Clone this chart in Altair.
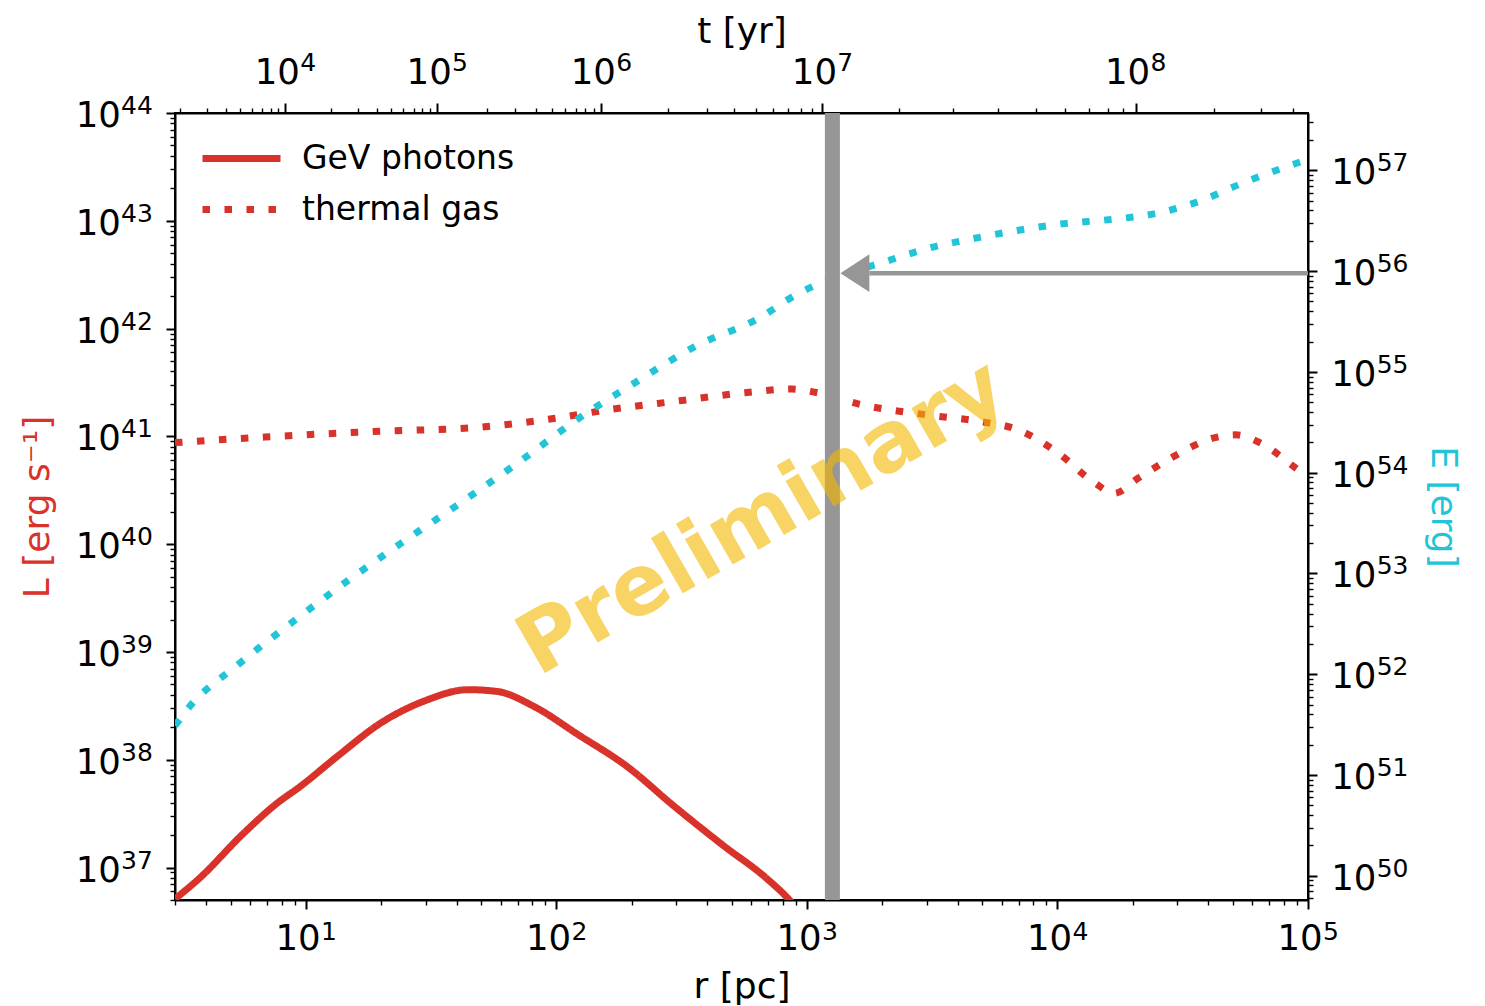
import altair as alt
import numpy as np
import pandas as pd

RED = "#d8322a"
CYAN = "#22c5d7"
GRAY = "#969696"
GOLD = "#f5b800"
FONT = "DejaVu Sans"

# ---------------- data ----------------
gev_r = [3.0, 3.75, 5.6, 7.56, 9.56, 13.35, 19.94, 29.8, 44.4, 58.0, 81.2, 121.1,
         193.5, 289.2, 461.9, 689.9, 842.8, 940.0]
gev_L = [5.12e36, 7.93e36, 2.05e37, 3.85e37, 5.73e37, 1.077e38, 2.20e38, 3.52e38,
         4.47e38, 4.30e38, 3.13e38, 1.73e38, 8.49e37, 3.85e37, 1.61e37, 7.93e36,
         5.12e36, 3.80e36]

thermal_r = [3.0, 6.84, 19.94, 47.6, 92.8, 158.1, 309.4, 564.5, 871.0, 1100.0, 1645.0,
             3001.0, 4792.0, 6922.0, 10000.0, 13975.0, 16845.0, 20870.0, 29140.0,
             42100.0, 51380.0, 65040.0, 90900.0, 100000.0]
thermal_L = [8.75e40, 9.86e40, 1.117e41, 1.208e41, 1.439e41, 1.754e41, 2.138e41,
             2.541e41, 2.748e41, 2.541e41, 1.972e41, 1.585e41, 1.384e41, 1.156e41,
             7.08e40, 3.75e40, 2.96e40, 4.06e40, 6.52e40, 9.68e40, 1.033e41, 8.61e40,
             4.95e40, 4.24e40]

energy_r = [3.0, 3.39, 5.41, 8.94, 14.74, 25.2, 41.6, 71.0, 121.1, 207.0, 353.4, 652.6,
            904.6, 1100.0, 1342.0, 2019.0, 2999.0, 4597.0, 6922.0, 10626.0, 15986.0,
            24530.0, 36900.0, 54810.0, 81400.0, 100000.0]
energy_E = [3.08e51, 4.60e51, 1.27e52, 3.37e52, 8.53e52, 2.17e53, 5.05e53, 1.279e54,
            3.38e54, 7.89e54, 1.762e55, 3.49e55, 5.83e55, 7.38e55, 8.91e55, 1.227e56,
            1.667e56, 2.10e56, 2.535e56, 2.96e56, 3.24e56, 3.72e56, 4.95e56, 7.48e56,
            1.079e57, 1.285e57]

band_r = [1263.0]
arrow_r_start = [1775.0]
arrow_r_end = [100000.0]
arrow_E = [9.55e55]
arrowhead_r = [1553.0]
watermark_text = ["Preliminary"]
watermark_r = [664.0]
watermark_L = [1.73e40]

series_names = ["GeV photons", "thermal gas"]

# axis ranges and ticks
x_domain = [3.0, 1e5]
L_domain = [5e36, 1e44]
E_domain = [5.74e49, 3.71e57]

bottom_major = [10.0, 100.0, 1e3, 1e4, 1e5]
left_major = [1e37, 1e38, 1e39, 1e40, 1e41, 1e42, 1e43, 1e44]
right_major = [1e50, 1e51, 1e52, 1e53, 1e54, 1e55, 1e56, 1e57]

# top axis: time ticks and the radius at which each one sits
top_major_exp = ["4", "5", "6", "7", "8"]
top_major_r = [8.27, 33.4, 151.0, 1152.0, 20490.0]
top_anchor_t = [1e3, 1e4, 1e5, 1e6, 1e7, 2e7, 3e7, 4e7, 5e7, 6e7, 7e7, 8e7, 9e7, 1e8, 1e9]
top_anchor_r = [2.08, 8.27, 33.4, 151.0, 1152.0, 2339.0, 3843.0, 5813.0, 8170.0,
                10670.0, 13300.0, 15840.0, 18340.0, 20490.0, 228000.0]


def minors(lo, hi, d0, d1):
    out = []
    for d in range(d0, d1 + 1):
        for k in range(2, 10):
            v = float(k) * 10.0 ** d
            if lo * 0.9999 <= v <= hi * 1.0001:
                out.append(v)
    return out


bottom_vals = bottom_major + minors(x_domain[0], x_domain[1], 0, 4)
left_vals = left_major + minors(L_domain[0], L_domain[1], 36, 43)
right_vals = right_major + minors(E_domain[0], E_domain[1], 49, 57)

top_minor_t = [float(k) * 10.0 ** d for d in range(3, 9) for k in range(2, 10)]
top_minor_r = []
for t in top_minor_t:
    lr = np.interp(np.log10(t), np.log10(top_anchor_t), np.log10(top_anchor_r))
    rv = float(np.round(10 ** lr, 3))
    if x_domain[0] <= rv <= x_domain[1]:
        top_minor_r.append(rv)
top_vals = top_major_r + top_minor_r

# ---------------- tables ----------------
df_red = pd.DataFrame({
    "r": gev_r + thermal_r,
    "L": gev_L + thermal_L,
    "series": [series_names[0]] * len(gev_r) + [series_names[1]] * len(thermal_r),
})
df_E = pd.DataFrame({"r": energy_r, "E": energy_E})
df_band = pd.DataFrame({"r": band_r})
df_arrow = pd.DataFrame({"r0": arrow_r_start, "r1": arrow_r_end, "E": arrow_E})
df_head = pd.DataFrame({"r": arrowhead_r, "E": arrow_E})
df_text = pd.DataFrame({"r": watermark_r, "L": watermark_L, "label": watermark_text})
df_top = pd.DataFrame({"v": top_vals})
df_bottom = pd.DataFrame({"v": bottom_major})
df_left = pd.DataFrame({"v": left_major})
df_right = pd.DataFrame({"v": right_major})

# ---------------- axes ----------------
EXP = "round(log(datum.value)/LN10)"
IS_MAJOR = f"abs(log(datum.value)/LN10 - {EXP}) < 0.001"
BASE_LABEL = f"({IS_MAJOR}) ? '10' : ''"
EXP_LABEL = f"({IS_MAJOR}) ? ('' + {EXP}) : ''"

TOP_MAJ = "[" + ",".join(repr(v) for v in top_major_r) + "]"
TOP_EXP = "[" + ",".join("'" + s + "'" for s in top_major_exp) + "]"
TOP_IS_MAJOR = f"indexof({TOP_MAJ}, datum.value) >= 0"
TOP_BASE = f"({TOP_IS_MAJOR}) ? '10' : ''"
TOP_EXP_LABEL = f"({TOP_IS_MAJOR}) ? {TOP_EXP}[indexof({TOP_MAJ}, datum.value)] : ''"

W, H = 1133, 787
BASE_FS = 35.5
EXP_FS = 25

AX = dict(grid=False, domainColor="black", domainWidth=2, tickColor="black",
          labelFont=FONT, labelColor="black", labelBaseline="alphabetic",
          labelFlush=False, labelOverlap=False, labelBound=False,
          titleFont=FONT, titleFontSize=36,
          titleFontWeight="normal", titleBaseline="middle", titleAlign="center")
EXPAX = dict(grid=False, domain=False, ticks=False, title=None, labelFont=FONT,
             labelColor="black", labelFontSize=EXP_FS, labelBaseline="alphabetic",
             labelFlush=False, labelOverlap=False, labelBound=False)


def tickstyle(test, major=9, minor=5):
    return dict(tickSize={"condition": {"test": test, "value": major}, "value": minor},
                tickWidth={"condition": {"test": test, "value": 2}, "value": 1.4})


x_scale = alt.Scale(type="log", domain=x_domain, nice=False)
L_scale = alt.Scale(type="log", domain=L_domain, nice=False)
E_scale = alt.Scale(type="log", domain=E_domain, nice=False)

bottom_axis = alt.Axis(orient="bottom", values=bottom_vals, labelExpr=BASE_LABEL,
                       labelFontSize=BASE_FS, labelPadding=40, labelOffset=-8.5,
                       labelAlign="center",
                       title="r [pc]", titleX=W / 2, titleY=86, titleColor="black",
                       **tickstyle(IS_MAJOR), **AX)
bottom_exp_axis = alt.Axis(orient="bottom", values=bottom_major, labelExpr=EXP_LABEL,
                           labelPadding=39, labelOffset=14.4, labelAlign="left", **EXPAX)

top_axis = alt.Axis(orient="top", values=top_vals, labelExpr=TOP_BASE,
                    labelFontSize=BASE_FS, labelPadding=19.5, labelOffset=-8.5,
                    labelAlign="center",
                    title="t [yr]", titleX=W / 2, titleY=-82, titleColor="black",
                    **tickstyle(TOP_IS_MAJOR, 10, 5), **AX)
top_exp_axis = alt.Axis(orient="top", values=top_major_r, labelExpr=TOP_EXP_LABEL,
                        labelPadding=42.5, labelOffset=14.4, labelAlign="left", **EXPAX)

left_axis = alt.Axis(orient="left", values=left_vals, labelExpr=BASE_LABEL,
                     labelFontSize=BASE_FS, labelPadding=45.6, labelOffset=13.5,
                     labelAlign="right",
                     title="L [erg s\u207b\u00b9]", titleColor=RED, titleAngle=270,
                     titleX=-138, titleY=H / 2, **tickstyle(IS_MAJOR), **AX)
left_exp_axis = alt.Axis(orient="left", values=left_major, labelExpr=EXP_LABEL,
                         labelPadding=22.6, labelOffset=0.5, labelAlign="right", **EXPAX)

right_axis = alt.Axis(orient="right", values=right_vals, labelExpr=BASE_LABEL,
                      labelFontSize=BASE_FS, labelPadding=13.7, labelOffset=13.5,
                      labelAlign="left",
                      title="E [erg]", titleColor=CYAN, titleAngle=90,
                      titleX=134, titleY=H / 2, **tickstyle(IS_MAJOR), **AX)
right_exp_axis = alt.Axis(orient="right", values=right_major, labelExpr=EXP_LABEL,
                          labelPadding=68.2, labelOffset=0.5, labelAlign="left", **EXPAX)

legend = alt.Legend(title=None, orient="none", legendX=50, legendY=29,
                    symbolType="M -3 0 L 3 0", symbolSize=676, symbolStrokeWidth=7,
                    symbolStrokeColor=RED, labelFont=FONT, labelFontSize=33,
                    labelColor="black", labelOffset=44, labelLimit=600,
                    rowPadding=17, padding=0)

# ---------------- layers ----------------
red = alt.Chart(df_red).mark_line(color=RED, strokeWidth=7, clip=True, strokeCap="butt",
                                  interpolate="monotone").encode(
    x=alt.X("r:Q", scale=x_scale, axis=bottom_axis),
    y=alt.Y("L:Q", scale=L_scale, axis=left_axis),
    strokeDash=alt.StrokeDash("series:N",
                              scale=alt.Scale(domain=series_names, range=[[1, 0], [7.5, 14.5]]),
                              legend=legend),
)

cyan = alt.Chart(df_E).mark_line(color=CYAN, strokeWidth=7, strokeDash=[7.5, 14.5],
                                 strokeCap="butt", clip=True,
                                 interpolate="monotone").encode(
    x=alt.X("r:Q", scale=x_scale, axis=None),
    y=alt.Y("E:Q", scale=E_scale, axis=right_axis),
)

band = alt.Chart(df_band).mark_rule(color=GRAY, strokeWidth=15).encode(
    x=alt.X("r:Q", scale=x_scale, axis=None),
)

arrow = alt.Chart(df_arrow).mark_rule(color=GRAY, strokeWidth=4.5).encode(
    x=alt.X("r0:Q", scale=x_scale, axis=None),
    x2="r1:Q",
    y=alt.Y("E:Q", scale=E_scale, axis=None),
)

head = alt.Chart(df_head).mark_point(shape="M -1 0 L 1 -1.3 L 1 1.3 Z", filled=True,
                                     size=841, color=GRAY, opacity=1, strokeWidth=0).encode(
    x=alt.X("r:Q", scale=x_scale, axis=None),
    y=alt.Y("E:Q", scale=E_scale, axis=None),
)

top = alt.Chart(df_top).mark_point(opacity=0).encode(
    x=alt.X("v:Q", scale=x_scale, axis=top_axis),
)
top_exp = alt.Chart(df_top).mark_point(opacity=0).encode(
    x=alt.X("v:Q", scale=x_scale, axis=top_exp_axis),
)
bottom_exp = alt.Chart(df_bottom).mark_point(opacity=0).encode(
    x=alt.X("v:Q", scale=x_scale, axis=bottom_exp_axis),
)
left_exp = alt.Chart(df_left).mark_point(opacity=0).encode(
    y=alt.Y("v:Q", scale=L_scale, axis=left_exp_axis),
)
right_exp = alt.Chart(df_right).mark_point(opacity=0).encode(
    y=alt.Y("v:Q", scale=E_scale, axis=right_exp_axis),
)

text = alt.Chart(df_text).mark_text(angle=330, fontSize=84, fontWeight="bold", font=FONT,
                                    color=GOLD, opacity=0.6, align="center",
                                    baseline="middle").encode(
    x=alt.X("r:Q", scale=x_scale, axis=None),
    y=alt.Y("L:Q", scale=L_scale, axis=None),
    text="label:N",
)

chart = alt.layer(red, cyan, band, arrow, head, top, top_exp, bottom_exp, left_exp,
                  right_exp, text).resolve_scale(
    y="independent"
).resolve_axis(
    x="independent", y="independent"
).properties(
    width=W, height=H,
    padding={"left": 175, "top": 113, "right": 1485 - 175 - W, "bottom": 1006 - 113 - H},
    autosize=alt.AutoSizeParams(type="none"),
    background="white",
).configure_view(stroke="black", strokeWidth=2)

chart.save("out.html", embed_options={"renderer": "svg", "actions": False})
